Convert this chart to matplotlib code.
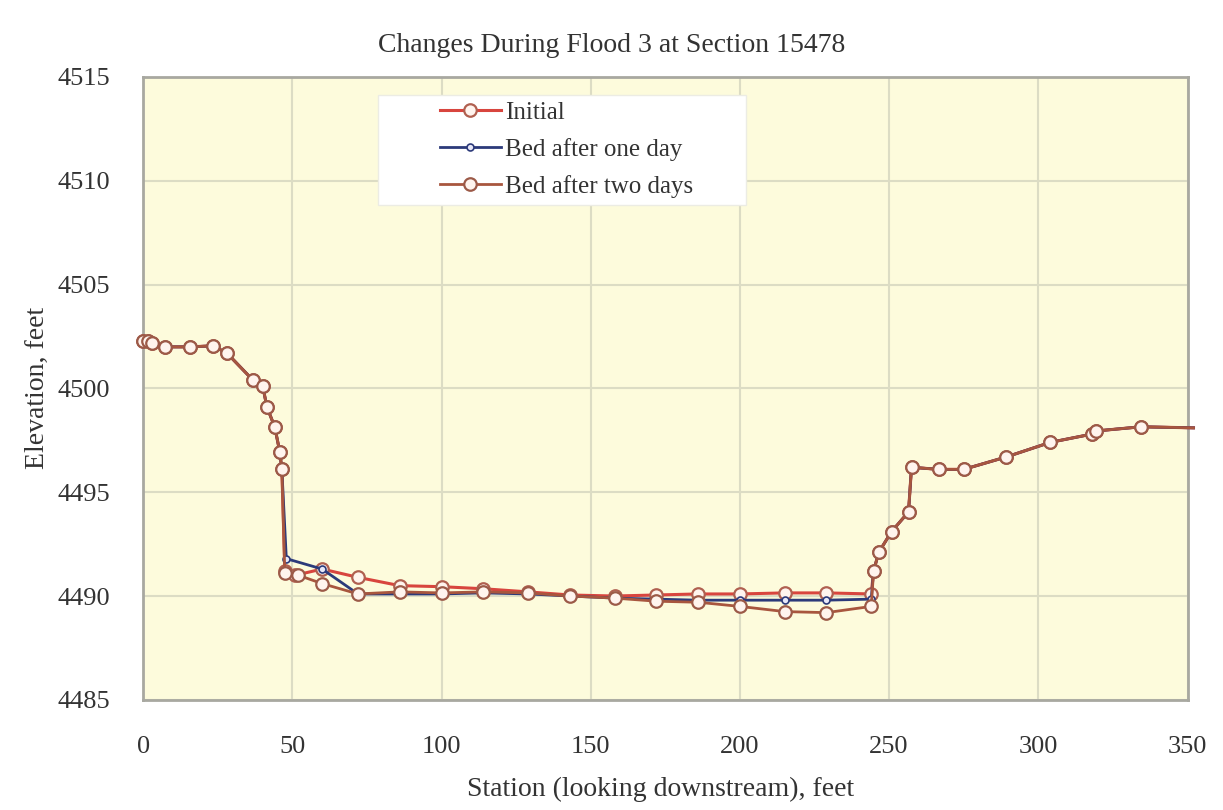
import numpy as np
import matplotlib
matplotlib.use('Agg')
import matplotlib.pyplot as plt
from matplotlib.patches import Rectangle

plt.rcParams['font.family'] = ['Liberation Serif', 'DejaVu Serif']

# bank on the left, same for all runs
st_left = [0, 1.5, 3, 7.4, 15.7, 23.4, 28.1, 36.8, 40.1, 41.5, 44.1, 45.8, 46.5]
el_left = [4502.3, 4502.3, 4502.2, 4502.0, 4502.0, 4502.05, 4501.7, 4500.4,
           4500.1, 4499.1, 4498.15, 4496.95, 4496.1]

# bank on the right, same for all runs
st_right = [244.8, 246.5, 250.8, 256.5, 257.5, 266.6, 275, 289.3, 304, 318,
            319.4, 334.4, 352]
el_right = [4491.2, 4492.1, 4493.1, 4494.05, 4496.2, 4496.1, 4496.1, 4496.7,
            4497.4, 4497.8, 4497.95, 4498.15, 4498.1]

# channel bed
st_init = [47.5, 51, 60, 72, 86, 100, 114, 129, 143, 158, 172, 186, 200, 215, 229, 244]
el_init = [4491.2, 4491.0, 4491.3, 4490.9, 4490.5, 4490.45, 4490.35, 4490.2,
           4490.05, 4490.0, 4490.05, 4490.1, 4490.1, 4490.15, 4490.15, 4490.1]

st_one = [48, 60, 72, 86, 100, 114, 129, 143, 158, 172, 186, 200, 215, 229, 244]
el_one = [4491.8, 4491.3, 4490.1, 4490.1, 4490.1, 4490.15, 4490.1, 4490.0,
          4489.9, 4489.85, 4489.8, 4489.8, 4489.8, 4489.8, 4489.85]

st_two = [47.5, 52, 60, 72, 86, 100, 114, 129, 143, 158, 172, 186, 200, 215, 229, 244]
el_two = [4491.1, 4491.0, 4490.6, 4490.1, 4490.2, 4490.15, 4490.2, 4490.15,
          4490.0, 4489.9, 4489.75, 4489.7, 4489.5, 4489.25, 4489.2, 4489.5]

xticks = [0, 50, 100, 150, 200, 250, 300, 350]
yticks = [4485, 4490, 4495, 4500, 4505, 4510, 4515]

fig = plt.figure(figsize=(12.23, 8.10), dpi=100)
ax = fig.add_axes([0.117, 0.136, 0.854, 0.769])
ax.set_facecolor('#fdfbdc')

def series(st, el):
    return st_left + st + st_right, el_left + el + el_right

x, y = series(st_init, el_init)
ax.plot(x, y, color='#d8453e', lw=2.2, marker='o', ms=9, mfc='#fff4ee',
        mec='#b06050', mew=1.6, markevery=list(range(len(x) - 1)),
        clip_on=False, label='Initial', zorder=3)
x, y = series(st_one, el_one)
ax.plot(x, y, color='#2c3a7a', lw=2.0, marker='o', ms=5, mfc='#e8e8f8',
        mec='#2c3a7a', mew=1.2, markevery=list(range(len(x) - 1)),
        clip_on=False, label='Bed after one day', zorder=4)
x, y = series(st_two, el_two)
ax.plot(x, y, color='#a8563e', lw=2.0, marker='o', ms=9, mfc='#fff4ee',
        mec='#9c5a48', mew=1.6, markevery=list(range(len(x) - 1)),
        clip_on=False, label='Bed after two days', zorder=5)

ax.set_xlim(0, 350)
ax.set_ylim(4485, 4515)
ax.set_xticks(xticks)
ax.set_yticks(yticks)
ax.tick_params(length=0, labelsize=19, colors='#333333')
ax.tick_params(axis='y', pad=24)
ax.tick_params(axis='x', pad=26)
ax.grid(color='#dcdcc4', lw=1.5)
ax.set_axisbelow(True)
for s in ax.spines.values():
    s.set_color('#a8a8a0')
    s.set_linewidth(2)

fig.text(0.5, 1 - 45 / 810, 'Changes During Flood 3 at Section 15478',
         fontsize=20, color='#333333', ha='center', va='center')
ax.set_xlabel('Station (looking downstream), feet', fontsize=20, color='#333333')
ax.xaxis.set_label_coords(0.495, -0.124)
ax.set_ylabel('Elevation, feet', fontsize=20, color='#333333')
ax.yaxis.set_label_coords(-0.089, 0.5)

# white legend box
ax.add_patch(Rectangle((0.225, 0.795), 0.352, 0.176, transform=ax.transAxes,
                       facecolor='white', edgecolor='#ecece4', lw=1, zorder=6))
leg = ax.legend(loc='upper left', bbox_to_anchor=(0.284, 0.961), fontsize=18,
                frameon=False, handlelength=2.45, borderpad=0,
                labelspacing=0.57, handletextpad=0.15, borderaxespad=0)
leg.set_zorder(7)
for t in leg.get_texts():
    t.set_color('#333333')

fig.savefig('out.png', dpi=100)
